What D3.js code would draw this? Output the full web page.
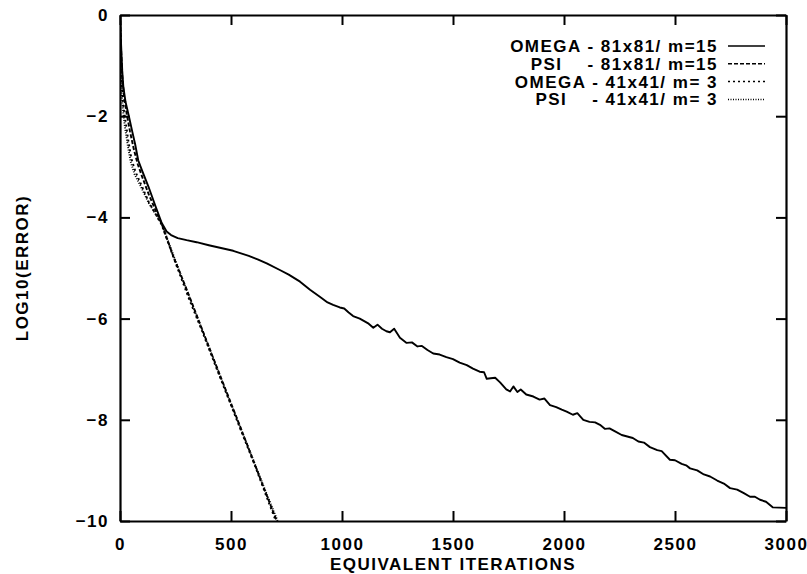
<!DOCTYPE html>
<html>
<head>
<meta charset="utf-8">
<script src="https://cdn.jsdelivr.net/npm/d3@7"></script>
<style>
  html, body { margin: 0; padding: 0; background: #fff; }
  svg { display: block; }
  .lbl { font-family: "Liberation Sans", Arial, Helvetica, sans-serif; font-weight: bold; font-size: 17px; letter-spacing: 1.5px; fill: #000; }
</style>
</head>
<body>
<svg id="chart" width="807" height="574"></svg>
<script>
// Convergence history: log10 of the error against equivalent iterations.
const xTicks = [0, 500, 1000, 1500, 2000, 2500, 3000];
const yTicks = [0, -2, -4, -6, -8, -10];

const seriesNames = [
  "OMEGA - 81x81/ m=15",
  "PSI    - 81x81/ m=15",
  "OMEGA - 41x41/ m= 3",
  "PSI    - 41x41/ m= 3"
];

// OMEGA on the 81x81 grid, m=15 (solid)
const omega81 = [
  [0, 0], [5, -0.6], [10, -1.1], [15, -1.42], [25, -1.72], [40, -2.0], [55, -2.3],
  [68, -2.55], [82, -2.87], [100, -3.08], [128, -3.39], [160, -3.78], [188, -4.11],
  [210, -4.28], [230, -4.35], [260, -4.41], [300, -4.45], [345, -4.49], [400, -4.55],
  [450, -4.6], [510, -4.66], [580, -4.76], [620, -4.83], [661, -4.91], [720, -5.04],
  [760, -5.13], [811, -5.27], [856, -5.43], [900, -5.57], [935, -5.68], [960, -5.73],
  [990, -5.78], [1010, -5.8], [1030, -5.88], [1050, -5.95], [1080, -6.0], [1100, -6.05],
  [1120, -6.1], [1141, -6.18], [1160, -6.12], [1180, -6.2], [1200, -6.25], [1216, -6.27],
  [1235, -6.2], [1261, -6.38], [1291, -6.48], [1315, -6.47], [1340, -6.55], [1360, -6.54],
  [1385, -6.62], [1411, -6.69], [1440, -6.71], [1470, -6.76], [1500, -6.8], [1530, -6.87],
  [1562, -6.92], [1590, -6.99], [1620, -7.05], [1640, -7.06], [1652, -7.19], [1670, -7.18],
  [1690, -7.17], [1712, -7.26], [1740, -7.4], [1757, -7.44], [1772, -7.34], [1790, -7.45],
  [1805, -7.4], [1830, -7.5], [1862, -7.54], [1890, -7.6], [1912, -7.58], [1937, -7.71],
  [1965, -7.75], [1990, -7.8], [2012, -7.84], [2040, -7.9], [2060, -7.87], [2087, -8.0],
  [2115, -8.04], [2140, -8.05], [2162, -8.1], [2185, -8.18], [2205, -8.17], [2230, -8.23],
  [2260, -8.3], [2285, -8.33], [2310, -8.36], [2335, -8.43], [2360, -8.45], [2387, -8.54],
  [2420, -8.6], [2440, -8.62], [2477, -8.79], [2500, -8.8], [2530, -8.87], [2550, -8.9],
  [2568, -8.96], [2600, -9.0], [2630, -9.08], [2658, -9.12], [2690, -9.2], [2720, -9.26],
  [2748, -9.35], [2780, -9.38], [2810, -9.45], [2838, -9.52], [2860, -9.52], [2883, -9.58],
  [2910, -9.62], [2940, -9.73], [3000, -9.74]
];

// PSI on the 81x81 grid, m=15 (dashed)
const psi81 = [
  [0, 0], [5, -0.7], [10, -1.2], [18, -1.6], [30, -1.95], [45, -2.3], [62, -2.65],
  [80, -2.95], [100, -3.2], [130, -3.55], [160, -3.86], [188, -4.13], [240, -4.77],
  [300, -5.42], [360, -6.1], [420, -6.78], [480, -7.45], [540, -8.12], [600, -8.8],
  [650, -9.37], [706, -10]
];

// OMEGA on the 41x41 grid, m=3 (dotted)
const omega41 = [
  [0, 0], [4, -0.8], [8, -1.35], [15, -1.8], [25, -2.1], [38, -2.5], [52, -2.85],
  [70, -3.1], [95, -3.35], [130, -3.7], [188, -4.15], [250, -4.9], [310, -5.6],
  [370, -6.25], [430, -6.93], [490, -7.6], [550, -8.27], [610, -8.93], [660, -9.52],
  [702, -10]
];

// PSI on the 41x41 grid, m=3 (fine dots)
const psi41 = [
  [0, 0], [3, -0.9], [7, -1.5], [14, -1.9], [22, -2.2], [34, -2.55], [48, -2.9],
  [66, -3.15], [95, -3.4], [130, -3.72], [188, -4.13], [250, -4.86], [310, -5.55],
  [370, -6.22], [430, -6.9], [490, -7.58], [550, -8.24], [610, -8.9], [660, -9.46],
  [710, -10]
];

const seriesData = [omega81, psi81, omega41, psi41];
const seriesDash = [null, "4,2", "2,3", "1,1.5"];

const svg = d3.select("#chart");
const margin = { left: 120, top: 15, right: 21, bottom: 53 };
const W = 807 - margin.left - margin.right;
const H = 574 - margin.top - margin.bottom;

const x = d3.scaleLinear().domain([0, 3000]).range([0, W]);
const y = d3.scaleLinear().domain([-10, 0]).range([H, 0]);

const g = svg.append("g").attr("transform", `translate(${margin.left},${margin.top})`);

g.append("clipPath").attr("id", "plot-clip")
  .append("rect").attr("x", 0).attr("y", 0).attr("width", W).attr("height", H);

// Frame axes: ticks point inwards on all four sides, labels on left and bottom
const styleAxis = sel => {
  sel.selectAll("path.domain").attr("stroke", "#000").attr("stroke-width", 2.2);
  sel.selectAll(".tick line").attr("stroke", "#000").attr("stroke-width", 2);
  sel.selectAll("text").attr("class", "lbl").attr("font-size", null).attr("font-family", null);
};

const fmt = d3.format("d");

g.append("g").attr("transform", `translate(0,${H})`)
  .call(d3.axisBottom(x).tickValues(xTicks).tickFormat(fmt).tickSizeInner(-10).tickSizeOuter(0).tickPadding(17))
  .call(styleAxis);
g.append("g")
  .call(d3.axisLeft(y).tickValues(yTicks).tickFormat(fmt).tickSizeInner(-10).tickSizeOuter(0).tickPadding(11))
  .call(styleAxis);
g.append("g")
  .call(d3.axisTop(x).tickValues(xTicks).tickSizeInner(-10).tickSizeOuter(0).tickFormat(""))
  .call(styleAxis);
g.append("g").attr("transform", `translate(${W},0)`)
  .call(d3.axisRight(y).tickValues(yTicks).tickSizeInner(-10).tickSizeOuter(0).tickFormat(""))
  .call(styleAxis);

// Curves
const line = d3.line().x(d => x(d[0])).y(d => y(d[1]));
const curves = g.append("g").attr("clip-path", "url(#plot-clip)");
seriesData.forEach((data, i) => {
  curves.append("path")
    .datum(data)
    .attr("d", line)
    .attr("fill", "none")
    .attr("stroke", "#000")
    .attr("stroke-width", 1.9)
    .attr("stroke-linejoin", "round")
    .attr("stroke-dasharray", seriesDash[i]);
});

// Legend: right-aligned labels with a short line sample
const legend = g.append("g");
seriesNames.forEach((name, i) => {
  const base = 37 + i * 17.8;
  legend.append("text")
    .attr("class", "lbl")
    .attr("x", 598)
    .attr("y", base)
    .attr("text-anchor", "end")
    .style("white-space", "pre")
    .text(name);
  legend.append("line")
    .attr("x1", 608).attr("x2", 645)
    .attr("y1", base - 6).attr("y2", base - 6)
    .attr("stroke", "#000")
    .attr("stroke-width", 1.5)
    .attr("stroke-dasharray", seriesDash[i]);
});

// Axis titles
svg.append("text")
  .attr("class", "lbl")
  .attr("x", margin.left + W / 2)
  .attr("y", 570)
  .attr("text-anchor", "middle")
  .text("EQUIVALENT ITERATIONS");

svg.append("text")
  .attr("class", "lbl")
  .attr("transform", `translate(28,${margin.top + H / 2}) rotate(-90)`)
  .attr("text-anchor", "middle")
  .text("LOG10(ERROR)");
</script>
</body>
</html>
